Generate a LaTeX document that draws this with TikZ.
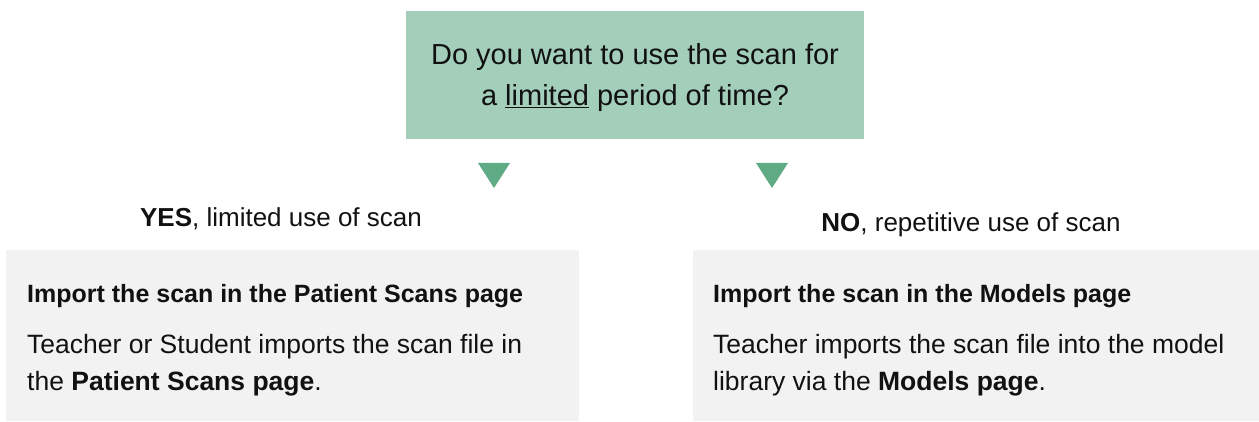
\documentclass[tikz,border=0pt]{standalone}
\usepackage{fontspec}
\setmainfont{Liberation Sans}
\usepackage{xcolor}
\usepackage{tikz}

\definecolor{qgreen}{HTML}{A3CFBA}
\definecolor{tgreen}{HTML}{5EAB85}
\definecolor{panelgray}{HTML}{F2F2F2}
\definecolor{ink}{HTML}{111111}

\begin{document}
\begin{tikzpicture}[
    x=1pt, y=-1pt,
    question/.style={fill=qgreen, minimum width=458pt, minimum height=128pt, align=center, text=ink, inner sep=0pt, font=\fontsize{29}{41}\selectfont},
    panel/.style={fill=panelgray, inner sep=0pt},
    answer/.style={anchor=base, text=ink, inner sep=0pt, font=\fontsize{26}{30}\selectfont},
    title/.style={anchor=base west, text=ink, inner sep=0pt, font=\fontsize{25}{30}\selectfont\bfseries},
    body/.style={anchor=base west, text=ink, inner sep=0pt, font=\fontsize{26.5}{30}\selectfont},
    tri/.style={fill=tgreen}
]
    \useasboundingbox (0,0) rectangle (1259,422);

    % Question
    \node[question] (question) at (635,75) {};
    \node[text=ink, align=center, inner sep=0pt, font=\fontsize{29}{41}\selectfont] (questiontext) at ([yshift=-3pt]question.center) {Do you want to use the scan for\\a \underline{limited} period of time?};

    % Markers
    \coordinate (yestip) at (494,188);
    \coordinate (notip) at (772,188);
    \fill[tri] (yestip) -- ++(-16,-25) -- ++(32,0) -- cycle;
    \fill[tri] (notip) -- ++(-16,-25) -- ++(32,0) -- cycle;

    % Answers
    \node[answer] (yeslabel) at (281,227) {\textbf{YES}, limited use of scan};
    \node[answer] (nolabel) at (971,232) {\textbf{NO}, repetitive use of scan};

    % YES panel
    \node[panel, minimum width=573pt, minimum height=171pt] (yesbox) at (292.5,335.5) {};
    \node[title] (yestitle) at (27,302) {Import the scan in the Patient Scans page};
    \node[body] (yesbody) at (27,353) {Teacher or Student imports the scan file in};
    \node[body] (yesbody2) at (27,390) {the \textbf{Patient Scans page}.};

    % NO panel
    \node[panel, minimum width=566pt, minimum height=171pt] (nobox) at (976,335.5) {};
    \node[title] (notitle) at (713,302) {Import the scan in the Models page};
    \node[body] (nobody) at (713,353) {Teacher imports the scan file into the model};
    \node[body] (nobody2) at (713,390) {library via the \textbf{Models page}.};
\end{tikzpicture}
\end{document}
